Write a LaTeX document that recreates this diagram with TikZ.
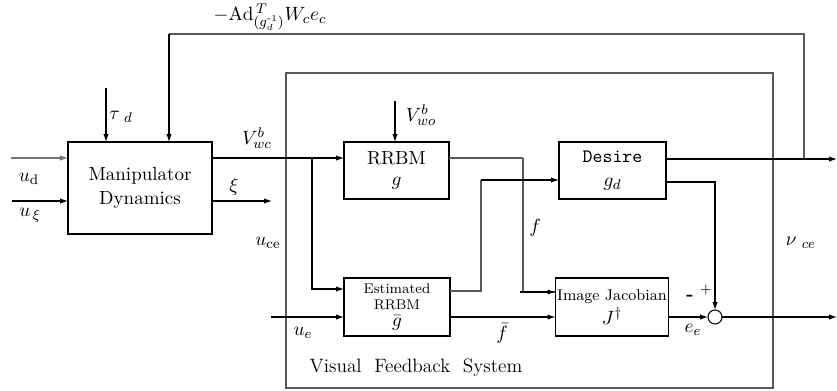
\documentclass[tikz,border=0pt]{standalone}
\usepackage{amsmath}
\usetikzlibrary{calc}
\usetikzlibrary{arrows.meta}

\begin{document}
\begin{tikzpicture}[x=0.02cm, y=-0.02cm, >={Latex[length=4.5pt,width=3pt]}, line width=0.6pt,
  box/.style={draw, rectangle, outer sep=0pt, inner sep=1pt, align=center, font=\fontsize{10.8}{13.7}\selectfont},
  lab/.style={inner sep=1pt, font=\fontsize{11}{13}\selectfont},
  gline/.style={draw=black!65}]

  \useasboundingbox (0,0) rectangle (837,390);

  \coordinate (UD)   at (11,158);
  \coordinate (UXI)  at (12,201);
  \coordinate (TAU)  at (106,88);
  \coordinate (FBT)  at (169,34);
  \coordinate (FBR)  at (804,159);
  \coordinate (BR)   at (312,158);
  \coordinate (XIE)  at (272,201);
  \coordinate (VWO)  at (395,101);
  \coordinate (GB)   at (523,158);
  \coordinate (HB)   at (481,291);
  \coordinate (HC)   at (481,180);
  \coordinate (UE)   at (271,317);
  \coordinate (VOUT) at (837,159);
  \coordinate (EOUT) at (837,317);
  \coordinate (VFSA) at (286,73);
  \coordinate (VFSB) at (773,388);

  \draw[gline] (VFSA) rectangle (VFSB);
  \node (man) at (140,188) [box, minimum width=2.88cm, minimum height=1.84cm]{Manipulator\\Dynamics};
  \node (rrbm) at (396.5,170.5) [box, minimum width=2.10cm, minimum height=1.14cm]{RRBM\\[-2pt]$g$};
  \node (est) at (397,307) [box, minimum width=2.12cm, minimum height=1.16cm, font=\fontsize{8}{9}\selectfont]{Estimated\\RRBM\\[1pt]{\fontsize{10.8}{12}\selectfont$\bar g$}};
  \node (des) at (612.5,170.5) [box, minimum width=2.14cm, minimum height=1.14cm]{\texttt{Desire}\\$g_d$};
  \node (jac) at (612,307) [box, minimum width=2.12cm, minimum height=1.16cm, font=\fontsize{8.9}{13}\selectfont]{Image Jacobian\\[1pt]{\fontsize{10.8}{12}\selectfont$J^{\dagger}$}};
  \node (sum) at (715,317) [circle, draw, outer sep=0pt, inner sep=0pt, minimum size=0.28cm]{};

  \node (adlab) at (270,17) [lab]{$-\mathrm{Ad}_{(g_d^{\text{-}1})}^{\,T}W_c e_c$};
  \node (taulab) at (121,117) [lab]{$\tau_{\ d}$};
  \node (udlab) at (29,179) [lab]{$u_{\mathrm{d}}$};
  \node (uxilab) at (30,215) [lab]{$u_{\,\xi}$};
  \node (vwclab) at (257,138) [lab]{$V_{wc}^{b}$};
  \node (xilab) at (234,187) [lab]{$\xi$};
  \node (ucelab) at (268,243) [lab]{$u_{\mathrm{ce}}$};
  \node (vwolab) at (421,115) [lab]{$V_{wo}^{b}$};
  \node (uelab) at (303,333) [lab]{$u_e$};
  \node (flab) at (535,228) [lab]{$f$};
  \node (fbarlab) at (502,333) [lab]{$\bar f$};
  \node (pluslab) at (706,290) [lab, font=\fontsize{8}{9}\selectfont]{$+$};
  \node (minuslab) at (690,298) [lab, font=\fontsize{11}{13}\selectfont\bfseries]{-};
  \node (eelab) at (693,330) [lab]{$e_e$};
  \node (nulab) at (801,243) [lab]{$\nu_{\ ce}$};
  \node (vfslab) at (416,368) [lab]{Visual\ \ Feedback\ \ System};

  \draw[->, draw=black!55] (UD) -- (UD -| man.west);
  \draw[->] (UXI) -- (UXI -| man.west);
  \draw[->] (TAU) -- (TAU |- man.north);
  \draw[gline] (FBR) -- (FBR |- FBT) -- (FBT);
  \draw[->] (FBT) -- (FBT |- man.north);

  \draw[->] (BR -| man.east) -- (BR -| rrbm.west);
  \draw[->] (BR) |- ($(est.north west)+(0,11)$);
  \draw[->] (XIE -| man.east) -- (XIE);
  \draw[->] (VWO) -- (VWO |- rrbm.north);

  \draw[gline] (GB -| rrbm.east) -- (GB);
  \draw[gline] (GB) |- ($(jac.north west)+(0,14)$);
  \draw[->] ($(GB |- jac.north)+(-3,14)$) -- ($(jac.north west)+(0,14)$);
  \draw[gline] (HB -| est.east) -- (HB) -- (HC);
  \draw[->] (HC) -- (HC -| des.west);
  \draw[->] (UE) -- (UE -| est.west);
  \draw[->] (UE -| est.east) -- (UE -| jac.west);

  \draw[->] (VOUT -| des.east) -- (VOUT);
  \draw[->] ($(des.north east)+(0,40)$) -| (sum.north);
  \draw[->] (EOUT -| jac.east) -- (sum.west);
  \draw[->] (sum.east) -- (EOUT);

\end{tikzpicture}
\end{document}
